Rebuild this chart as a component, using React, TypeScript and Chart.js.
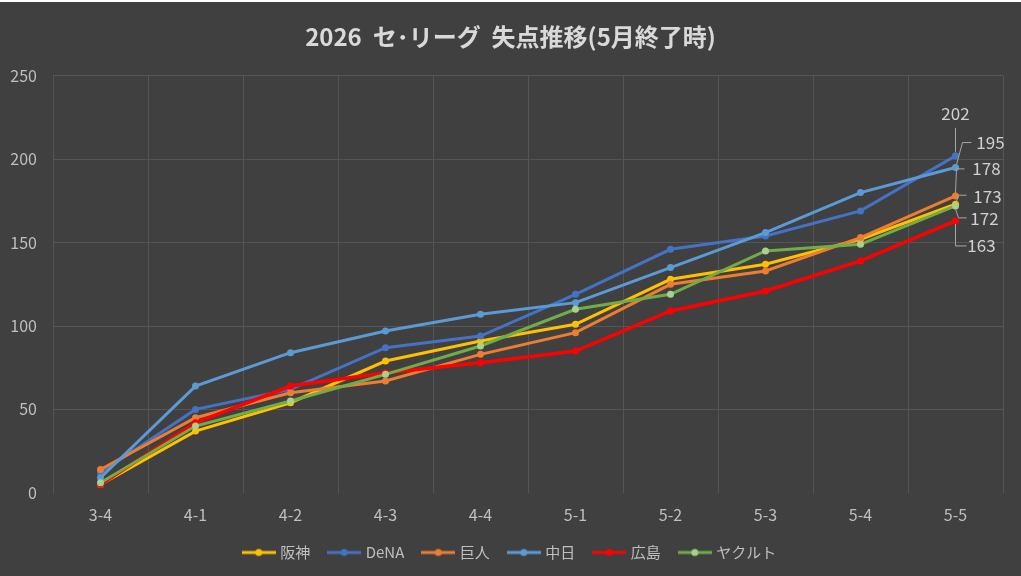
import React, { useEffect, useRef } from "react";
import { Chart, registerables } from "chart.js";

Chart.register(...registerables);

const FONT = '"Noto Sans CJK JP", "Noto Sans", sans-serif';

const rounds = ["3-4", "4-1", "4-2", "4-3", "4-4", "5-1", "5-2", "5-3", "5-4", "5-5"];
const yTicks = [0, 50, 100, 150, 200, 250];

const hanshin = [5, 37, 54, 79, 91, 101, 128, 137, 152, 173];
const dena = [12, 50, 62, 87, 94, 119, 146, 154, 169, 202];
const kyojin = [14, 45, 60, 67, 83, 96, 125, 133, 153, 178];
const chunichi = [9, 64, 84, 97, 107, 114, 135, 156, 180, 195];
const hiroshima = [5, 42, 64, 72, 78, 85, 109, 121, 139, 163];
const yakult = [6, 40, 55, 71, 88, 110, 119, 145, 149, 172];

const teams = [
  { name: "阪神", data: hanshin, line: "#ffc000", point: "#ffc000", width: 3 },
  { name: "DeNA", data: dena, line: "#4472c4", point: "#4472c4", width: 3 },
  { name: "巨人", data: kyojin, line: "#ed7d31", point: "#ed7d31", width: 3 },
  { name: "中日", data: chunichi, line: "#5b9bd5", point: "#5b9bd5", width: 3 },
  { name: "広島", data: hiroshima, line: "#ff0000", point: "#ff0000", width: 3.5 },
  { name: "ヤクルト", data: yakult, line: "#70ad47", point: "#a9d18e", width: 3 },
];

// label placement for the last point of each series: text centre and leader line, relative to the point
const endLabels = [
  { text: [32, -8], leader: [[11, -9], [3, -9], [1, -3]] },
  { text: [0, -42], leader: [[0, -28], [0, -4]] },
  { text: [31, -27], leader: [[9, -27], [1, -27], [0, -3]] },
  { text: [35, -25], leader: [[16, -25], [7, -25], [1, -3]] },
  { text: [26, 25], leader: [[11, 25], [0, 25], [0, 3]] },
  { text: [29, 13], leader: [[11, 12], [3, 12], [0, 3]] },
];

function legendIcon(line: string, point: string) {
  const c = document.createElement("canvas");
  c.width = 34;
  c.height = 10;
  const g = c.getContext("2d")!;
  g.strokeStyle = line;
  g.lineWidth = 3;
  g.beginPath();
  g.moveTo(0, 5);
  g.lineTo(34, 5);
  g.stroke();
  g.fillStyle = point;
  g.beginPath();
  g.arc(17, 5, 3.5, 0, Math.PI * 2);
  g.fill();
  return c;
}

const bgPlugin = {
  id: "bg",
  beforeDraw(chart: any) {
    const { ctx, width, height } = chart;
    ctx.save();
    ctx.fillStyle = "#404040";
    ctx.fillRect(0, 0, width, height);
    ctx.restore();
  },
};

// title and legend are centred on the whole canvas, not on the padded area
const centreBoxes = {
  id: "centreBoxes",
  afterLayout(chart: any) {
    const shift = (box: any) => {
      if (!box) return;
      const d = (chart.width - (box.left + box.right)) / 2;
      box.left += d;
      box.right += d;
    };
    shift(chart.titleBlock);
    shift(chart.legend);
  },
};

const endLabelPlugin = {
  id: "endLabels",
  afterDatasetsDraw(chart: any) {
    const { ctx } = chart;
    ctx.save();
    chart.data.datasets.forEach((ds: any, i: number) => {
      const meta = chart.getDatasetMeta(i);
      const pt = meta.data[meta.data.length - 1];
      if (!pt) return;
      const cfg = endLabels[i];
      ctx.strokeStyle = "#a6a6a6";
      ctx.lineWidth = 1;
      ctx.beginPath();
      cfg.leader.forEach(([dx, dy], k) => {
        if (k === 0) ctx.moveTo(pt.x + dx, pt.y + dy);
        else ctx.lineTo(pt.x + dx, pt.y + dy);
      });
      ctx.stroke();
      ctx.fillStyle = "#d0d0d0";
      ctx.font = `17px ${FONT}`;
      ctx.textAlign = "center";
      ctx.textBaseline = "middle";
      ctx.fillText(String(ds.data[ds.data.length - 1]), pt.x + cfg.text[0], pt.y + cfg.text[1]);
    });
    ctx.restore();
  },
};

export default function App() {
  const canvasRef = useRef<HTMLCanvasElement | null>(null);
  const chartRef = useRef<Chart | null>(null);

  useEffect(() => {
    if (!canvasRef.current) return;
    if (chartRef.current) chartRef.current.destroy();
    const icons = teams.map((t) => legendIcon(t.line, t.point));

    chartRef.current = new Chart(canvasRef.current, {
      type: "line",
      data: {
        labels: rounds,
        datasets: teams.map((t, i) => ({
          label: t.name,
          data: t.data,
          borderColor: t.line,
          backgroundColor: t.point,
          pointBackgroundColor: t.point,
          pointBorderColor: t.point,
          borderWidth: t.width,
          pointRadius: 3.5,
          pointBorderWidth: 0,
          tension: 0,
          order: teams.length - i,
        })),
      },
      options: {
        responsive: false,
        animation: false,
        layout: { padding: { left: 0, right: 18, top: 0, bottom: 6 } },
        plugins: {
          title: {
            display: true,
            text: "2026  セ･リーグ  失点推移(5月終了時)",
            color: "#d9d9d9",
            font: { size: 24, weight: "bold", family: FONT },
            padding: { top: 22, bottom: 25 },
          },
          legend: {
            position: "bottom",
            labels: {
              usePointStyle: true,
              pointStyleWidth: 28,
              color: "#bfbfbf",
              font: { size: 15, family: FONT },
              padding: 20,
              generateLabels: (chart: any) =>
                chart.data.datasets.map((ds: any, i: number) => ({
                  text: ds.label,
                  fillStyle: ds.borderColor,
                  strokeStyle: ds.borderColor,
                  lineWidth: 0,
                  pointStyle: icons[i],
                  hidden: !chart.isDatasetVisible(i),
                  datasetIndex: i,
                  fontColor: "#bfbfbf",
                })),
            },
          },
          tooltip: { enabled: false },
        },
        scales: {
          x: {
            offset: true,
            grid: { offset: true, color: "#555555", drawTicks: false },
            border: { display: false },
            ticks: { color: "#bfbfbf", font: { size: 16, family: FONT }, padding: 13 },
            afterFit: (scale: any) => {
              scale.height = scale.height - 13;
            },
          },
          y: {
            min: 0,
            max: 250,
            afterBuildTicks: (scale: any) => {
              scale.ticks = yTicks.map((v) => ({ value: v }));
            },
            afterFit: (scale: any) => {
              scale.width = 53;
            },
            grid: {
              color: (c: any) => (c.tick && c.tick.value === 0 ? "rgba(0,0,0,0)" : "#555555"),
              drawTicks: false,
            },
            border: { display: false },
            ticks: { color: "#bfbfbf", font: { size: 16, family: FONT }, padding: 16 },
          },
        },
      },
      plugins: [bgPlugin, centreBoxes, endLabelPlugin],
    } as any);

    return () => {
      if (chartRef.current) {
        chartRef.current.destroy();
        chartRef.current = null;
      }
    };
  }, []);

  return (
    <div style={{ position: "fixed", left: 0, top: 0, width: 1021, height: 576, background: "#404040" }}>
      <canvas ref={canvasRef} width={1021} height={576} style={{ display: "block", width: 1021, height: 576 }} />
      <div style={{ position: "absolute", left: 0, top: 0, width: 1021, height: 2, background: "#ffffff" }} />
    </div>
  );
}
